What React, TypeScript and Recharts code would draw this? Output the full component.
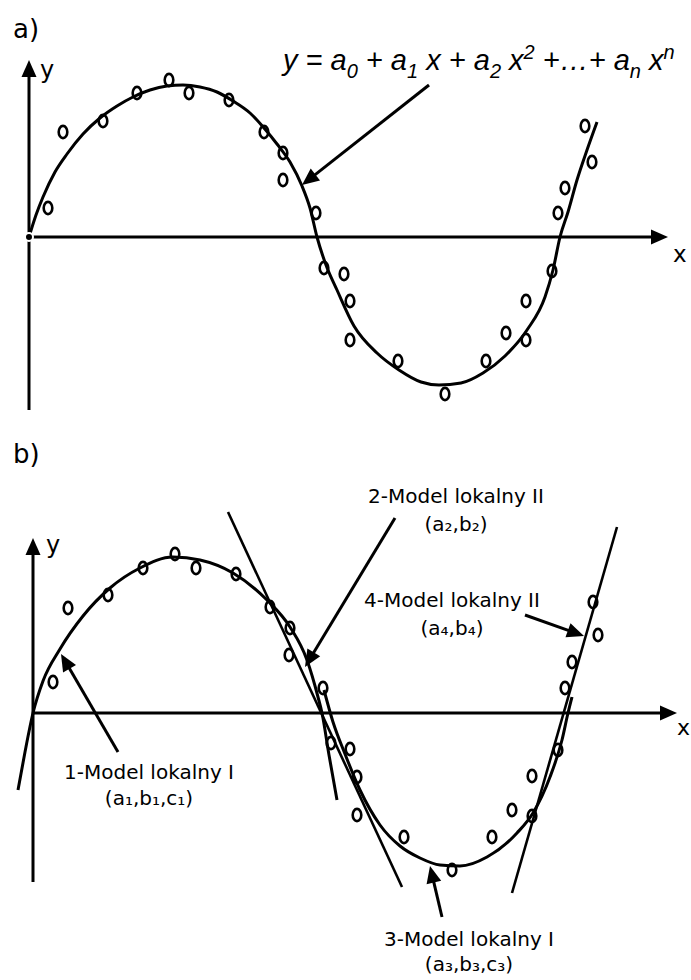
import React from 'react';
import { ComposedChart, Line, Scatter, XAxis, YAxis, ReferenceLine, ReferenceDot } from 'recharts';

// a) global polynomial fit: curve points and the measured samples
const curveA = [
  { x: 0, y: 0 }, { x: 0.7, y: 2.2 }, { x: 1.4, y: 4.0 }, { x: 2.6, y: 6.5 }, { x: 3.8, y: 8.3 },
  { x: 5.4, y: 10.3 }, { x: 7.1, y: 11.9 }, { x: 8.8, y: 13.1 }, { x: 10.4, y: 14.0 }, { x: 12.1, y: 14.7 },
  { x: 13.8, y: 15.1 }, { x: 15.4, y: 15.2 }, { x: 17.1, y: 15.0 }, { x: 18.8, y: 14.5 }, { x: 20.4, y: 13.6 },
  { x: 22.1, y: 12.4 }, { x: 23.5, y: 10.9 }, { x: 24.8, y: 9.3 }, { x: 26.1, y: 7.5 }, { x: 27.3, y: 5.1 },
  { x: 28.1, y: 2.9 }, { x: 28.8, y: 0 }, { x: 29.7, y: -2.8 }, { x: 30.8, y: -5.3 }, { x: 32.5, y: -8.9 },
  { x: 34.8, y: -11.6 }, { x: 37.0, y: -13.3 }, { x: 39.2, y: -14.5 }, { x: 41.0, y: -14.8 }, { x: 43.2, y: -14.6 },
  { x: 45.4, y: -13.6 }, { x: 47.6, y: -11.9 }, { x: 49.8, y: -9.3 }, { x: 51.6, y: -6.0 }, { x: 52.4, y: -3.3 },
  { x: 53.1, y: 0 }, { x: 53.9, y: 2.5 }, { x: 54.8, y: 5.7 }, { x: 55.8, y: 8.7 }, { x: 56.8, y: 11.5 },
];

const samplesA = [
  { x: 1.9, y: 2.9 }, { x: 3.4, y: 10.5 }, { x: 7.4, y: 11.6 }, { x: 10.8, y: 14.4 }, { x: 14.0, y: 15.7 },
  { x: 16.0, y: 14.4 }, { x: 20.0, y: 13.7 }, { x: 23.5, y: 10.5 }, { x: 25.4, y: 8.4 }, { x: 25.4, y: 5.7 },
  { x: 28.7, y: 2.4 }, { x: 29.5, y: -3.1 }, { x: 31.5, y: -3.7 }, { x: 32.1, y: -6.4 }, { x: 32.1, y: -10.3 },
  { x: 36.9, y: -12.4 }, { x: 41.6, y: -15.7 }, { x: 45.7, y: -12.4 }, { x: 47.7, y: -9.6 }, { x: 49.7, y: -10.3 },
  { x: 49.7, y: -6.4 }, { x: 52.3, y: -3.4 }, { x: 52.9, y: 2.4 }, { x: 53.6, y: 4.9 }, { x: 55.6, y: 11.1 },
  { x: 56.3, y: 7.5 },
];

// b) four local models
const model1 = [
  { x: -1.5, y: -7.7 }, { x: -0.8, y: -3.9 }, { x: 0, y: 0 }, { x: 1.0, y: 3.2 }, { x: 2.7, y: 6.4 },
  { x: 5.0, y: 9.7 }, { x: 7.7, y: 12.5 }, { x: 10.7, y: 14.5 }, { x: 14.0, y: 15.6 }, { x: 16.7, y: 15.3 },
  { x: 20.0, y: 14.0 }, { x: 23.4, y: 11.3 }, { x: 25.7, y: 8.6 }, { x: 27.4, y: 5.3 }, { x: 28.5, y: 1.6 },
  { x: 28.9, y: 0 }, { x: 29.6, y: -4.2 }, { x: 30.4, y: -8.7 },
];

const model2 = [{ x: 19.5, y: 20.1 }, { x: 36.9, y: -17.4 }];

const model3 = [
  { x: 29.1, y: 2.3 }, { x: 30.0, y: -0.9 }, { x: 31.2, y: -4.1 }, { x: 32.7, y: -7.7 }, { x: 34.7, y: -11.2 },
  { x: 36.7, y: -13.3 }, { x: 38.7, y: -14.5 }, { x: 40.7, y: -15.2 }, { x: 42.7, y: -15.3 }, { x: 45.4, y: -14.4 },
  { x: 48.4, y: -12.0 }, { x: 50.0, y: -10.0 }, { x: 51.7, y: -6.4 }, { x: 52.9, y: -2.7 }, { x: 53.5, y: 0 },
  { x: 53.9, y: 1.6 },
];

const model4 = [{ x: 47.9, y: -18.0 }, { x: 58.4, y: 18.6 }];

const samplesB = [
  { x: 2.0, y: 3.1 }, { x: 3.5, y: 10.5 }, { x: 7.5, y: 11.8 }, { x: 11.0, y: 14.5 }, { x: 14.2, y: 15.9 },
  { x: 16.3, y: 14.5 }, { x: 20.3, y: 13.9 }, { x: 23.7, y: 10.6 }, { x: 25.7, y: 8.5 }, { x: 25.6, y: 5.8 },
  { x: 29.0, y: 2.5 }, { x: 29.8, y: -3.0 }, { x: 31.7, y: -3.6 }, { x: 32.4, y: -6.4 }, { x: 32.4, y: -10.2 },
  { x: 37.1, y: -12.4 }, { x: 41.9, y: -15.7 }, { x: 45.9, y: -12.4 }, { x: 47.9, y: -9.7 }, { x: 49.9, y: -10.3 },
  { x: 49.9, y: -6.3 }, { x: 52.5, y: -3.7 }, { x: 53.2, y: 2.5 }, { x: 53.9, y: 5.1 }, { x: 56.0, y: 11.1 },
  { x: 56.5, y: 7.8 },
];

const modelLabels = [
  ['1-Model lokalny I', '(a₁,b₁,c₁)'],
  ['2-Model lokalny II', '(a₂,b₂)'],
  ['3-Model lokalny I', '(a₃,b₃,c₃)'],
  ['4-Model lokalny II', '(a₄,b₄)'],
];

const SANS = "'DejaVu Sans', Verdana, sans-serif";
const ARIAL = "'Liberation Sans', Arial, sans-serif";

// line with a filled triangular head at its second end point
const arrow = (width: number, head = 16, half = 7) => (p: any) => {
  const { x1, y1, x2, y2 } = p;
  const dx = x2 - x1;
  const dy = y2 - y1;
  const len = Math.hypot(dx, dy) || 1;
  const ux = dx / len;
  const uy = dy / len;
  const bx = x2 - ux * head;
  const by = y2 - uy * head;
  const nx = -uy * half;
  const ny = ux * half;
  return (
    <g>
      <line x1={x1} y1={y1} x2={bx + ux} y2={by + uy} stroke="#000" strokeWidth={width} />
      <polygon points={`${x2},${y2} ${bx + nx},${by + ny} ${bx - nx},${by - ny}`} fill="#000" />
    </g>
  );
};

const ring = (p: any) => (
  <ellipse cx={p.cx} cy={p.cy} rx={4.3} ry={6.1} fill="none" stroke="#000" strokeWidth={2.6} />
);

const text = (key: string, x: number, y: number, draw: (cx: number, cy: number) => React.ReactNode) => (
  <ReferenceDot key={key} x={x} y={y} r={0} ifOverflow="visible" shape={(p: any) => <g>{draw(p.cx, p.cy)}</g>} />
);

const twoLines = (key: string, x: number, y: number, lines: string[], gap = 27) =>
  text(key, x, y, (cx, cy) => (
    <text x={cx} y={cy} textAnchor="middle" fontFamily={SANS} fontSize={20} fill="#000">
      <tspan x={cx}>{lines[0]}</tspan>
      <tspan x={cx} dy={gap}>{lines[1]}</tspan>
    </text>
  ));

const plain = (key: string, x: number, y: number, s: string, size: number) =>
  text(key, x, y, (cx, cy) => (
    <text x={cx} y={cy} fontFamily={SANS} fontSize={size} fill="#000">{s}</text>
  ));

const axes = (xEnd: number, yLow: number, yTop: number) => [
  <ReferenceLine key="ax-y" ifOverflow="visible" segment={[{ x: 0, y: yLow }, { x: 0, y: yTop }]} shape={arrow(3, 17, 7.5)} />,
  <ReferenceLine key="ax-x" ifOverflow="visible" segment={[{ x: 0, y: 0 }, { x: xEnd, y: 0 }]} shape={arrow(3, 17, 7.5)} />,
];

const W = 691;

export default function App() {
  return (
    <div style={{ position: 'absolute', left: 0, top: 0, width: W, height: 980, background: '#fff' }}>
      <ComposedChart width={W} height={440} margin={{ top: 0, right: 0, bottom: 0, left: 0 }}>
        <XAxis type="number" dataKey="x" domain={[-2.9, 66.2]} allowDataOverflow hide height={0} />
        <YAxis type="number" dataKey="y" domain={[-20.3, 23.7]} allowDataOverflow hide width={0} />
        {axes(63.9, -17.3, 17.7)}
        <Line data={curveA} dataKey="y" type="monotone" stroke="#000" strokeWidth={3} dot={false} isAnimationActive={false} />
        <Scatter data={samplesA} dataKey="y" shape={ring} isAnimationActive={false} />
        <ReferenceLine ifOverflow="visible" segment={[{ x: 40.0, y: 15.2 }, { x: 27.3, y: 5.2 }]} shape={arrow(3, 17, 7.5)} />
        {plain('a-title', -1.6, 19.9, 'a)', 26)}
        {plain('a-y', 1.1, 15.9, 'y', 24)}
        {plain('a-x', 64.4, -2.5, 'x', 23)}
        {text('a-formula', 25.4, 16.7, (cx, cy) => (
          <text x={cx} y={cy} fontFamily={ARIAL} fontStyle="italic" fontSize={29} fill="#000" style={{ whiteSpace: 'pre' }}>
            <tspan>y = a</tspan>
            <tspan fontSize={20} dy={8}>0</tspan>
            <tspan dy={-8}> + a</tspan>
            <tspan fontSize={20} dy={8}>1</tspan>
            <tspan dy={-8}> x + a</tspan>
            <tspan fontSize={20} dy={8}>2</tspan>
            <tspan dy={-8}> x</tspan>
            <tspan fontSize={20} dy={-11}>2</tspan>
            <tspan dy={11}> +…+ a</tspan>
            <tspan fontSize={20} dy={8}>n</tspan>
            <tspan dy={-8}> x</tspan>
            <tspan fontSize={20} dy={-11}>n</tspan>
          </text>
        ))}
      </ComposedChart>

      <ComposedChart width={W} height={540} margin={{ top: 0, right: 0, bottom: 0, left: 0 }}>
        <XAxis type="number" dataKey="x" domain={[-3.3, 65.8]} allowDataOverflow hide height={0} />
        <YAxis type="number" dataKey="y" domain={[-26.7, 27.3]} allowDataOverflow hide width={0} />
        {axes(64.4, -16.9, 17.5)}
        <Line data={model1} dataKey="y" type="monotone" stroke="#000" strokeWidth={3} dot={false} isAnimationActive={false} />
        <Line data={model2} dataKey="y" type="linear" stroke="#000" strokeWidth={2.6} dot={false} isAnimationActive={false} />
        <Line data={model3} dataKey="y" type="monotone" stroke="#000" strokeWidth={3} dot={false} isAnimationActive={false} />
        <Line data={model4} dataKey="y" type="linear" stroke="#000" strokeWidth={2.6} dot={false} isAnimationActive={false} />
        <Scatter data={samplesB} dataKey="y" shape={ring} isAnimationActive={false} />
        <ReferenceLine ifOverflow="visible" segment={[{ x: 8.5, y: -3.9 }, { x: 2.8, y: 5.9 }]} shape={arrow(3, 17, 7.5)} />
        <ReferenceLine ifOverflow="visible" segment={[{ x: 36.2, y: 19.5 }, { x: 27.2, y: 4.6 }]} shape={arrow(3, 17, 7.5)} />
        <ReferenceLine ifOverflow="visible" segment={[{ x: 40.9, y: -20.4 }, { x: 39.7, y: -15.3 }]} shape={arrow(3, 17, 7.5)} />
        <ReferenceLine ifOverflow="visible" segment={[{ x: 49.2, y: 9.8 }, { x: 55.1, y: 7.7 }]} shape={arrow(3, 17, 7.5)} />
        {plain('b-title', -2.0, 25.0, 'b)', 26)}
        {plain('b-y', 1.3, 16.0, 'y', 24)}
        {plain('b-x', 64.4, -2.2, 'x', 22)}
        {twoLines('m1', 11.6, -6.6, modelLabels[0], 26)}
        {twoLines('m2', 42.3, 21.0, modelLabels[1], 28)}
        {twoLines('m3', 43.6, -23.3, modelLabels[2], 25)}
        {twoLines('m4', 41.9, 10.6, modelLabels[3], 28)}
      </ComposedChart>
    </div>
  );
}
